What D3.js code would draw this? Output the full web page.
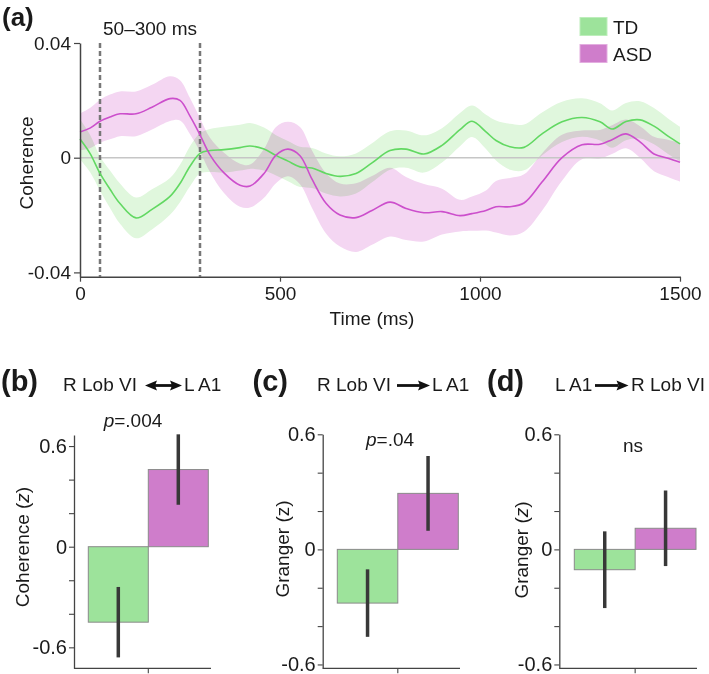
<!DOCTYPE html>
<html>
<head>
<meta charset="utf-8">
<script src="https://cdn.jsdelivr.net/npm/d3@7"></script>
<style>
body { margin: 0; background: #fff; }
svg text { font-family: "Liberation Sans", Arial, Helvetica, sans-serif; fill: #1a1a1a; }
</style>
</head>
<body>
<svg id="chart" width="709" height="674"></svg>
<script>
// ---- data (coherence values in units of 1e-3) ----
const times = [0, 25, 50, 75, 100, 140, 180, 225, 250, 275, 300, 325, 360, 400, 425, 460, 490, 520, 550, 580,
  615, 650, 690, 730, 775, 815, 860, 905, 950, 980, 1015, 1040, 1075, 1110, 1155, 1205, 1255, 1300, 1330, 1365,
  1400, 1435, 1470, 1500];
const tdMean = [6.5, 1.5, -5.5, -11, -16, -21, -18, -13.5, -9, -3, 1.5, 2.5, 2.8, 3.5, 4.1, 3, 0.8, -1.2, -3.2, -3.6,
  -5.5, -6.5, -5.5, -1.8, 2.5, 3.0, 1.3, 4.3, 9.8, 12.7, 9, 6, 3.8, 3.6, 8.3, 12.5, 14, 12.5, 10, 12.6,
  13.2, 11, 7.5, 4.8];
const tdErr = [7, 6.5, 6, 6.5, 7, 7.1, 7, 6.4, 6.5, 7, 7, 7.5, 8, 8, 8, 7.5, 7, 7, 7, 7,
  7, 7, 7, 6.8, 6.7, 6.5, 6.5, 6, 5.8, 5.5, 6, 7, 8, 8, 7.5, 7, 6.7, 6.5, 6.5, 6.5,
  6.5, 6.3, 6.2, 6];
const asdMean = [9, 10.3, 12.7, 14.2, 15.3, 15.3, 17.6, 20.6, 20, 14.5, 8, 1, -5.3, -9.6, -9.9, -5.5, 0.9, 3, 0.7, -7.5,
  -15.9, -20, -20.9, -18.4, -15.5, -17.7, -19.2, -18.8, -20.2, -19.5, -18.4, -17.1, -17.1, -15.8, -8.5, 0, 4.5, 4.7, 6.3, 8.3,
  5.5, 1.3, -0.2, -1.6];
const asdErr = [6.4, 7, 7.5, 7.8, 7.8, 7.8, 7.8, 7.8, 7, 6.3, 5.8, 6, 7, 7.5, 7.5, 8.5, 9.8, 9.5, 10, 10,
  10.5, 11, 12, 12, 12, 11, 10, 8, 5.5, 6, 7, 9, 10, 10, 10, 8, 5, 5, 5, 5,
  5.5, 6, 6.5, 6.7];
const windowMs = [50, 300];

const groups = ['TD', 'ASD'];
const cohMean = [-0.45, 0.46];
const cohErr = [0.21, 0.21];
const grangerFwdMean = [-0.28, 0.292];
const grangerFwdErr = [0.176, 0.195];
const grangerRevMean = [-0.106, 0.11];
const grangerRevErr = [0.2, 0.197];

const colors = {
  tdLine: '#62d862', tdBand: '#e0f7dd', asdLine: '#cc4fcc', asdBand: '#f4d6f2',
  tdBar: '#9de39b', asdBar: '#cf7dcb'
};

const svg = d3.select('#chart');

// ================= panel (a) =================
const x = d3.scaleLinear().domain([0, 1500]).range([80, 680]);
const y = d3.scaleLinear().domain([-41.5, 40]).range([276.7, 43]);

const td = times.map((t, i) => ({t: t, m: tdMean[i], e: tdErr[i]}));
const asd = times.map((t, i) => ({t: t, m: asdMean[i], e: asdErr[i]}));

const band = d3.area()
  .x(d => x(d.t))
  .y0(d => y(d.m - d.e))
  .y1(d => y(d.m + d.e))
  .curve(d3.curveCatmullRom);
const line = d3.line()
  .x(d => x(d.t))
  .y(d => y(d.m))
  .curve(d3.curveCatmullRom);

const gA = svg.append('g');

gA.append('path').datum(asd).attr('d', band)
  .attr('fill', colors.asdBand).style('mix-blend-mode', 'multiply');
gA.append('path').datum(td).attr('d', band)
  .attr('fill', colors.tdBand).style('mix-blend-mode', 'multiply');

// zero line
gA.append('line')
  .attr('x1', x(0)).attr('x2', x(1500))
  .attr('y1', y(0)).attr('y2', y(0))
  .attr('stroke', '#c6c6c6').attr('stroke-width', 1.5);

// analysis window
gA.selectAll('.win').data(windowMs).enter().append('line')
  .attr('x1', d => x(d)).attr('x2', d => x(d))
  .attr('y1', y(40)).attr('y2', y.range()[0])
  .attr('stroke', '#777').attr('stroke-width', 2.5)
  .attr('stroke-dasharray', '5,3');

gA.append('path').datum(td).attr('d', line)
  .attr('fill', 'none').attr('stroke', colors.tdLine).attr('stroke-width', 1.6);
gA.append('path').datum(asd).attr('d', line)
  .attr('fill', 'none').attr('stroke', colors.asdLine).attr('stroke-width', 1.6);

// axes
const fmtA = d => d === 0 ? '0' : (d / 1000).toFixed(2);
const yAxisA = gA.append('g').attr('transform', `translate(${x(0)},0)`)
  .call(d3.axisLeft(y).tickValues([-40, 0, 40]).tickFormat(fmtA).tickSize(6).tickSizeOuter(0).tickPadding(3));
const xAxisA = gA.append('g').attr('transform', `translate(0,${y.range()[0]})`)
  .call(d3.axisBottom(x).tickValues([0, 500, 1000, 1500]).tickFormat(d => String(d))
    .tickSize(5).tickSizeOuter(0).tickPadding(5));
[yAxisA, xAxisA].forEach(a => {
  a.select('.domain').attr('stroke', '#444').attr('stroke-width', 1.5);
  a.selectAll('.tick line').attr('stroke', '#444').attr('stroke-width', 1.2);
  a.selectAll('.tick text').attr('font-size', 19).attr('fill', '#1a1a1a')
    .style('font-family', '"Liberation Sans", Arial, sans-serif');
});

gA.append('text').attr('x', 372).attr('y', 325).attr('text-anchor', 'middle')
  .attr('font-size', 19).text('Time (ms)');
gA.append('text').attr('transform', 'translate(33,163) rotate(-90)').attr('text-anchor', 'middle')
  .attr('font-size', 19).text('Coherence');

gA.append('text').attr('x', 2).attr('y', 26).attr('font-size', 26).attr('font-weight', 'bold').text('(a)');
gA.append('text').attr('x', 103).attr('y', 35).attr('font-size', 19).text('50\u2013300 ms');

// legend
const legend = gA.append('g');
groups.forEach((g, i) => {
  legend.append('rect')
    .attr('x', 580).attr('y', 17.5 + i * 27).attr('width', 27).attr('height', 18)
    .attr('fill', i === 0 ? colors.tdBar : colors.asdBar)
    .attr('stroke', i === 0 ? '#bdeebb' : '#e3aee0').attr('stroke-width', 1);
  legend.append('text').attr('x', 613).attr('y', 34 + i * 27)
    .attr('font-size', 19).text(g);
});

// ================= panels (b)-(d) =================
function arrow(g, x1, x2, yy, both) {
  const h = 12, w = 5, t = 1.4;
  const a = both ? x1 + h - 2 : x1;
  g.append('rect').attr('x', a).attr('y', yy - t).attr('width', x2 - h + 2 - a).attr('height', 2 * t).attr('fill', '#111');
  g.append('path').attr('d', `M${x2},${yy} L${x2 - h},${yy - w} L${x2 - h + 2},${yy} L${x2 - h},${yy + w} Z`).attr('fill', '#111');
  if (both) {
    g.append('path').attr('d', `M${x1},${yy} L${x1 + h},${yy - w} L${x1 + h - 2},${yy} L${x1 + h},${yy + w} Z`).attr('fill', '#111');
  }
}

const panels = [
  {letter: '(b)', lx: 1, means: cohMean, errs: cohErr, axisX: 74, barL: 88.3, barR: 208.3, xEnd: 211,
   dom: [-0.725, 0.666], top: 435, label: 'Coherence', italicZ: true, labX: 29, labY: 547,
   note: 'p', noteRest: '=.004', noteX: 133, noteY: 427,
   title: [{t: 'R Lob VI', x: 63}, {t: 'L A1', x: 184}], arr: [145, 182, true]},
  {letter: '(c)', lx: 252.5, means: grangerFwdMean, errs: grangerFwdErr, axisX: 322.7, barL: 337.3, barR: 458.3, xEnd: 460,
   dom: [-0.62, 0.6], top: 434.3, label: 'Granger', italicZ: false, labX: 289, labY: 549,
   note: 'p', noteRest: '=.04', noteX: 390, noteY: 445.5,
   title: [{t: 'R Lob VI', x: 317}, {t: 'L A1', x: 432}], arr: [397, 430, false]},
  {letter: '(d)', lx: 487, means: grangerRevMean, errs: grangerRevErr, axisX: 559.3, barL: 574.3, barR: 696, xEnd: 697,
   dom: [-0.62, 0.6], top: 434.3, label: 'Granger', italicZ: true, labX: 528, labY: 550,
   note: '', noteRest: 'ns', noteX: 633, noteY: 452,
   title: [{t: 'L A1', x: 555}, {t: 'R Lob VI', x: 631}], arr: [595, 628.5, false]}
];

const bottomY = 668.3;

panels.forEach(p => {
  const g = svg.append('g');
  const yb = d3.scaleLinear().domain(p.dom).range([bottomY, p.top]);
  const xb = d3.scaleBand().domain(groups).range([p.barL, p.barR]).paddingInner(0);

  const rows = groups.map((k, i) => ({k: k, m: p.means[i], e: p.errs[i]}));

  g.selectAll('rect.bar').data(rows).enter().append('rect')
    .attr('class', 'bar')
    .attr('x', d => xb(d.k))
    .attr('width', xb.bandwidth())
    .attr('y', d => yb(Math.max(0, d.m)))
    .attr('height', d => Math.abs(yb(d.m) - yb(0)))
    .attr('fill', (d, i) => i === 0 ? colors.tdBar : colors.asdBar)
    .attr('stroke', '#8a8a8a').attr('stroke-width', 1);

  g.selectAll('line.err').data(rows).enter().append('line')
    .attr('class', 'err')
    .attr('x1', d => xb(d.k) + xb.bandwidth() / 2)
    .attr('x2', d => xb(d.k) + xb.bandwidth() / 2)
    .attr('y1', d => yb(d.m - d.e))
    .attr('y2', d => yb(d.m + d.e))
    .attr('stroke', '#383838').attr('stroke-width', 3.5);

  // y axis
  const ya = g.append('g').attr('transform', `translate(${p.axisX},0)`)
    .call(d3.axisLeft(yb).tickValues([-0.6, -0.4, -0.2, 0, 0.2, 0.4, 0.6])
      .tickFormat(d => Math.abs(d) < 1e-9 ? '0' : (Math.abs(Math.abs(d) - 0.6) < 1e-9 ? (d < 0 ? '-0.6' : '0.6') : ''))
      .tickSize(5).tickSizeOuter(0).tickPadding(2));
  ya.select('.domain').attr('stroke', '#444').attr('stroke-width', 1.3);
  ya.selectAll('.tick line').attr('stroke', '#444').attr('stroke-width', 1.1);
  ya.selectAll('.tick text').attr('font-size', 20).attr('fill', '#1a1a1a')
    .style('font-family', '"Liberation Sans", Arial, sans-serif');

  // x axis
  g.append('line').attr('x1', p.axisX).attr('x2', p.xEnd).attr('y1', bottomY).attr('y2', bottomY)
    .attr('stroke', '#444').attr('stroke-width', 1.3);
  g.append('line').attr('x1', xb('ASD')).attr('x2', xb('ASD')).attr('y1', bottomY).attr('y2', bottomY + 5)
    .attr('stroke', '#444').attr('stroke-width', 1.1);

  // y label
  const lab = g.append('text').attr('transform', `translate(${p.labX},${p.labY}) rotate(-90)`)
    .attr('text-anchor', 'middle').attr('font-size', 19);
  lab.append('tspan').text(p.label + ' (');
  lab.append('tspan').attr('font-style', p.italicZ ? 'italic' : 'normal').text('z');
  lab.append('tspan').text(')');

  // significance note
  const note = g.append('text').attr('x', p.noteX).attr('y', p.noteY).attr('text-anchor', 'middle').attr('font-size', 19);
  if (p.note) note.append('tspan').attr('font-style', 'italic').text(p.note);
  note.append('tspan').text(p.noteRest);

  // panel letter and title
  g.append('text').attr('x', p.lx).attr('y', 391).attr('font-size', 29).attr('font-weight', 'bold').text(p.letter);
  p.title.forEach(tt => {
    g.append('text').attr('x', tt.x).attr('y', 391).attr('font-size', 19).text(tt.t);
  });
  arrow(g, p.arr[0], p.arr[1], 385.5, p.arr[2]);
});
</script>
</body>
</html>
